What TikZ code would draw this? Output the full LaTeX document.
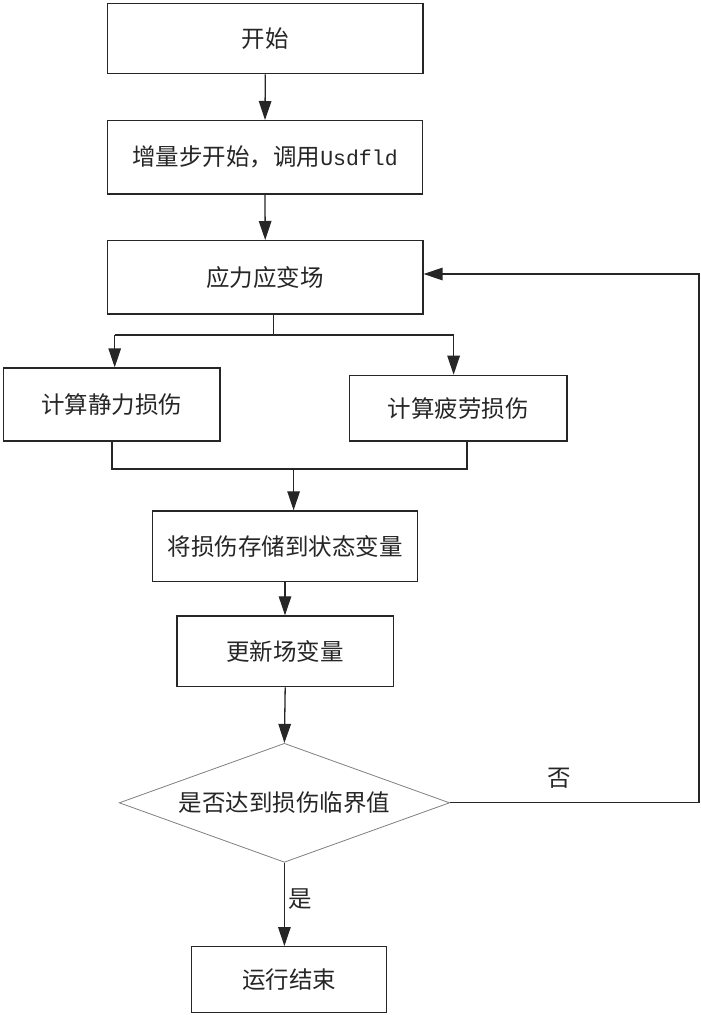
\documentclass[tikz,border=0pt]{standalone}
\usepackage{fontspec}
\newfontfamily\cjk{Noto Sans CJK SC}
\newfontfamily\lmono{Liberation Mono}
\usetikzlibrary{arrows.meta,shapes.geometric}
\begin{document}
\begin{tikzpicture}[x=1pt,y=-1pt,
  txt/.style={font=\cjk\fontsize{23.5}{28}\selectfont, text=black!85},
  box/.style={txt, draw=black!85, line width=1.3pt, inner sep=0pt, fill=white},
  dia/.style={txt, draw=black!50, line width=0.8pt, diamond, aspect=2.78, inner sep=0pt,
              minimum width=330.4pt, minimum height=119pt},
  conn/.style={draw=black!85, line width=1.3pt},
  arr/.style={conn, -{Triangle[length=19pt,width=12.5pt]}},
  lbl/.style={txt}
]
\useasboundingbox[fill=white] (0,0) rectangle (701,1015);

\node[box, minimum width=315.4pt, minimum height=70.2pt] (start) at (265.3,38.6) {开始};
\node[box, minimum width=315pt, minimum height=73.3pt] (inc) at (265,157.3) {增量步开始，调用{\lmono\fontsize{21.5}{28}\selectfont Usdfld}};
\node[box, minimum width=315.5pt, minimum height=73.3pt] (stress) at (265.2,277.3) {应力应变场};
\node[box, minimum width=216.5pt, minimum height=73pt] (static) at (111.8,404.5) {计算静力损伤};
\node[box, minimum width=217.4pt, minimum height=65.7pt] (fatigue) at (458.3,408.2) {计算疲劳损伤};
\node[box, minimum width=264.9pt, minimum height=70.7pt] (store) at (285.2,546.3) {将损伤存储到状态变量};
\node[box, minimum width=216.5pt, minimum height=70.7pt] (update) at (285.2,651.3) {更新场变量};
\node[dia] (check) at (284.4,802.8) {是否达到损伤临界值};
\node[box, minimum width=194.6pt, minimum height=66pt] (finish) at (289.1,979.7) {运行结束};

% start -> inc -> stress
\draw[arr] (start.south) -- (inc.north);
\draw[arr] (inc.south) -- (stress.north);

% split
\coordinate (split) at (273.4,335);
\coordinate (sL) at (114.7,335);
\coordinate (sR) at (453.6,335);
\draw[conn] (split |- stress.south) -- (split);
\draw[conn] (sL) -- (sR);
\draw[arr] (sL) -- (sL |- static.north);
\draw[arr] (sR) -- (sR |- fatigue.north);

% merge
\coordinate (mL) at (112,469);
\coordinate (mR) at (467,469);
\coordinate (mC) at (293.6,469);
\draw[conn] (mL |- static.south) -- (mL) -- (mR) -- (mR |- fatigue.south);
\draw[arr] (mC) -- (mC |- store.north);

% store -> update -> check
\coordinate (c1) at (285,600);
\draw[arr] (c1 |- store.south) -- (c1 |- update.north);
\draw[arr] (update.south) -- (check.north);

% yes
\draw[arr] (check.south) -- (check.south |- finish.north);
\node[lbl] (yes) at (300,899) {是};

% no / feedback
\coordinate (fb1) at (699,802.8);
\coordinate (fb2) at (699,274);
\draw[arr] (check.east) -- (fb1) -- (fb2) -- (fb2 -| stress.east);
\node[lbl] (no) at (559.4,778.3) {否};
\end{tikzpicture}
\end{document}
